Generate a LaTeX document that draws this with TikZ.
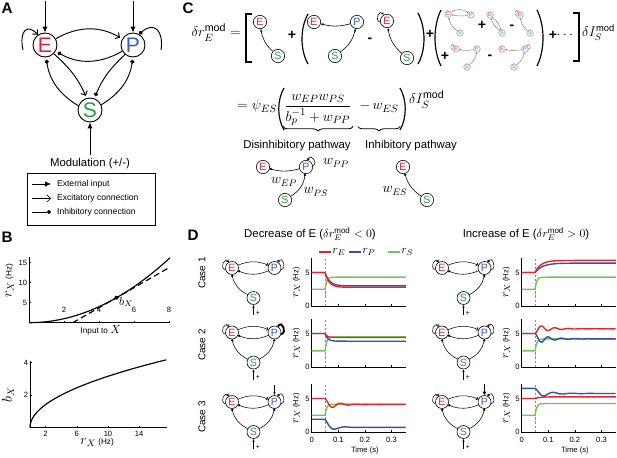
\documentclass[tikz,border=0pt]{standalone}
\usepackage{amsmath}
\usepackage{fontspec}
\setmainfont{Liberation Sans}
\usetikzlibrary{arrows.meta,decorations.pathreplacing}

\definecolor{colE}{RGB}{215,35,55}
\definecolor{colP}{RGB}{55,95,190}
\definecolor{colS}{RGB}{35,160,60}
\definecolor{trE}{RGB}{232,36,42}
\definecolor{trP}{RGB}{52,78,178}
\definecolor{trS}{RGB}{112,200,80}

\newcommand{\eqsize}{\fontsize{13}{15}\selectfont}
\newcommand{\txtsize}{\fontsize{9.7}{11}\selectfont}
\newcommand{\lgdsize}{\fontsize{7.3}{9}\selectfont}
\newcommand{\ticksize}{\fontsize{6.5}{8}\selectfont}
\newcommand{\plussize}{\fontsize{12}{12}\selectfont\bfseries}

% rates after the step at t = 0.05 s
\newcommand{\stepcurve}[4]{\draw[#1] (0,#2) -- (0.05,#2) -- plot[domain=0.05:0.355,samples=60] (\x,{#3+(#2-#3)*exp(-(\x-0.05)/#4)});}
\newcommand{\osccurve}[5]{\draw[#1] (0,#2) -- (0.05,#2) -- plot[domain=0.05:0.355,samples=120] (\x,{#3+(#2-#3)*exp(-(\x-0.05)/#4)*cos(360*#5*(\x-0.05))});}

% frame of one rate plot
\newcommand{\dframe}[1]{%
  \draw[axisline] (0,7.1) -- (0,0) -- (0.355,0);
  \foreach \t in {0.1,0.2,0.3} \draw[axisline] (\t,0) -- (\t,0.3);
  \draw[axisline] (0,5) -- (0.008,5);
  \draw[vline] (0.05,0) -- (0.05,7.1);
  \node[ytlab] (#1y0) at (0,0) {0};
  \node[ytlab] (#1y5) at (0,5) {5};
  \node[rotate=90,font=\ticksize] (#1lab) at (-0.057,3.5) {{\fontsize{10}{10}\selectfont$r_X$} (Hz)};
}
\newcommand{\dtime}[1]{%
  \foreach \t/\n in {0/a,0.1/b,0.2/c,0.3/d} \node[font=\ticksize] (#1x\n) at (\t,-1.2) {\t};
  \node[font=\ticksize] (#1time) at (0.2,-2.8) {Time (s)};
}
% E, P, S of one small network in D
\newcommand{\minicells}[4]{%
  \node[cellD,text=colE] (#1e) at (#2,#3) {E};
  \node[cellD,text=colP] (#1p) at (#2+42.5,#3) {P};
  \node[cellD,text=colS] (#1s) at (#2+21.5,#4) {S};
  \coordinate (#1m) at (#2+21.5,#4-17);
  \node[font=\fontsize{6}{6}\selectfont,inner sep=0pt] (#1plus) at (#2+26,#4-15) {+};
  \draw[sext] (#1m) -- (#1s);
  \draw[sexc] (#1e.195) .. controls +(165:7) and +(120:7) .. (#1e.120);
  \draw[sexc] (#1e.25) to[bend left=22] (#1p.155);
  \draw[sinh] (#1p.205) to[bend left=22] (#1e.-25);
}

\begin{document}
\begin{tikzpicture}[x=0.03cm,y=0.03cm,
  lbl/.style={font=\fontsize{13}{15}\selectfont\bfseries},
  cellA/.style={circle,draw,line width=0.8pt,fill=white,minimum size=7.2mm,inner sep=0pt,font=\fontsize{18}{18}\selectfont},
  cellC/.style={circle,draw,line width=0.5pt,fill=white,minimum size=4mm,inner sep=0pt,font=\fontsize{9}{9}\selectfont},
  cellT/.style={circle,draw=black!45,line width=0.3pt,minimum size=2mm,inner sep=0pt,font=\fontsize{4.5}{4.5}\selectfont},
  cellD/.style={circle,draw,line width=0.5pt,fill=white,minimum size=3.9mm,inner sep=0pt,font=\fontsize{9}{9}\selectfont},
  tE/.style={cellT,fill=colE!12,text=colE!70},
  tP/.style={cellT,fill=colP!12,text=colP!70},
  tS/.style={cellT,fill=colS!12,text=colS!70},
  ext/.style={line width=0.8pt,-{Latex[length=5pt,width=4.5pt]}},
  exc/.style={line width=0.8pt,-{Straight Barb[length=3pt,width=6pt]}},
  inh/.style={line width=0.8pt,-{Circle[length=3.5pt]}},
  sext/.style={line width=0.5pt,-{Latex[length=2.5pt,width=2.2pt]}},
  sexc/.style={line width=0.45pt,-{Straight Barb[length=1.5pt,width=3pt]}},
  sinh/.style={line width=0.45pt,-{Circle[length=2pt]}},
  carr/.style={line width=0.5pt,-{Stealth[length=2.5pt,width=2pt]}},
  cinh/.style={line width=0.5pt,-{Circle[length=2pt]}},
  tarr/.style={line width=0.3pt,black!60,-{Stealth[length=1.3pt,width=1.2pt]}},
  paren/.style={line width=1pt},
  brc/.style={decorate,decoration={brace,mirror,amplitude=4pt},line width=0.7pt},
  axisline/.style={line width=0.5pt},
  fcurve/.style={line width=1pt},
  rtrace/.style={line width=1.2pt},
  ytlab/.style={anchor=east,font=\ticksize,inner sep=1.5pt},
  vline/.style={black!45,line width=0.5pt,dash pattern=on 2pt off 1.5pt}
]
\useasboundingbox (0,0) rectangle (617,-458);

% panel labels
\node[lbl] (labA) at (7,-8) {A};
\node[lbl] (labB) at (7,-237) {B};
\node[lbl] (labC) at (188,-8) {C};
\node[lbl] (labD) at (193,-235) {D};

% A: network
\node[cellA,text=colE] (eA) at (45,-45) {E};
\node[cellA,text=colP] (pA) at (133,-45) {P};
\node[cellA,text=colS] (sA) at (90,-110) {S};
\coordinate (inE) at (45,-1);
\coordinate (inP) at (133,-1);
\coordinate (lpE) at (23,-50);
\coordinate (lpP) at (161,-50);
\draw[ext] (inE) -- (eA);
\draw[ext] (inP) -- (pA);
\draw[exc] (lpE) .. controls (19,-31) and (27,-23) .. (eA.125);
\draw[inh] (lpP) .. controls (164,-31) and (154,-21) .. (pA.60);
\draw[exc,shorten >=2pt] (eA.30) to[bend left=30] (pA.150);
\draw[inh,shorten >=2pt] (pA.210) to[bend left=30] (eA.-30);
\draw[exc,shorten >=2pt] (eA.-45) to[bend left=12] (sA.105);
\draw[inh,shorten >=2pt] (sA.160) to[bend left=25] (eA.-85);
\draw[inh,shorten >=2pt] (pA.-130) to[bend right=12] (sA.70);
\draw[inh,shorten >=2pt] (sA.25) to[bend right=25] (pA.-90);
\node[font=\txtsize] (modA) at (90,-164) {Modulation (+/-)};
\draw[ext] (modA) -- (sA);

% A: legend
\draw[line width=0.5pt] (27,-173) rectangle (155,-225);
\coordinate (lg1a) at (32,-184); \coordinate (lg1b) at (51,-184);
\coordinate (lg2a) at (32,-198.5); \coordinate (lg2b) at (51,-198.5);
\coordinate (lg3a) at (32,-212); \coordinate (lg3b) at (51,-212);
\draw[ext,line width=0.6pt] (lg1a) -- (lg1b);
\draw[exc,line width=0.6pt] (lg2a) -- (lg2b);
\draw[inh,line width=0.6pt] (lg3a) -- (lg3b);
\node[anchor=west,font=\lgdsize] (lg1t) at (53,-184) {External input};
\node[anchor=west,font=\lgdsize] (lg2t) at (53,-198.5) {Excitatory connection};
\node[anchor=west,font=\lgdsize] (lg3t) at (53,-212) {Inhibitory connection};

% B: transfer function
\begin{scope}[shift={(29,-322.7)},xscale=17.5,yscale=4]
  \draw[axisline] (0,16.3) -- (0,0) -- (8.05,0);
  \foreach \v in {2,4,6,8} {
    \draw[axisline] (\v,0) -- (\v,0.5);
    \node[font=\ticksize] (bx\v) at (\v,3.2) {\v};
  }
  \foreach \v in {5,10,15} {
    \draw[axisline] (0,\v) -- (0.12,\v);
    \node[ytlab] (by\v) at (0,\v) {\v};
  }
  \draw[fcurve] plot[domain=0:8.05,samples=60] (\x,{0.25*\x*\x});
  \draw[fcurve,dash pattern=on 5pt off 3pt] (2.5,0) -- (8,13.75);
  \node[circle,fill,inner sep=0pt,minimum size=3.5pt] (bdot) at (5,6.25) {};
  \node[font=\fontsize{10}{12}\selectfont] (bxlab) at (5.55,5.2) {$b_X$};
  \node[rotate=90,font=\fontsize{7}{8}\selectfont] (brlab) at (-1.1,10.5) {{\fontsize{12}{12}\selectfont$r_X$} (Hz)};
  \node[font=\fontsize{7}{8}\selectfont] (binlab) at (4.1,-2.0) {Input to {\fontsize{10}{10}\selectfont$X$}};
\end{scope}

% B: gain
\begin{scope}[shift={(30,-427.5)},xscale=7.8,yscale=16.2]
  \draw[axisline] (0,4.1) -- (0,0) -- (17.5,0);
  \foreach \v in {2,6,10,14} {
    \draw[axisline] (\v,0) -- (\v,0.12);
    \node[font=\ticksize] (bbx\v) at (\v,-0.42) {\v};
  }
  \foreach \v in {2,4} {
    \draw[axisline] (0,\v) -- (0.25,\v);
    \node[ytlab] (bby\v) at (0,\v) {\v};
  }
  \draw[fcurve] plot[domain=0:4.18,samples=60] ({\x*\x},\x);
  \node[rotate=90,font=\fontsize{12}{12}\selectfont] (bblab) at (-2.8,2.0) {$b_X$};
  \node[font=\fontsize{7}{8}\selectfont] (bbrlab) at (8.6,-0.9) {{\fontsize{12}{12}\selectfont$r_X$} (Hz)};
\end{scope}

% C: expansion
\node[anchor=base east,font=\eqsize,inner sep=0pt] (lhs) at (241,-37) {$\delta r_E^{\mathrm{mod}}=$};
\draw[paren,line width=1.3pt] (252,-14) -- (246,-14) -- (246,-62) -- (252,-62);
\node[cellC,text=colE] (e1) at (260,-22) {E};
\node[cellC,text=colS] (s1) at (278,-56) {S};
\draw[carr] (s1) to[bend left=20] (e1);
\node[font=\plussize] (pl1) at (292,-35) {+};
\draw[paren] (308,-14) .. controls (300,-28) and (300,-50) .. (308,-64);
\node[cellC,text=colE] (e2) at (314,-22) {E};
\node[cellC,text=colP] (p2) at (357,-22) {P};
\node[cellC,text=colS] (s2) at (335,-56) {S};
\draw[carr] (p2) to[bend left=15] (e2);
\draw[carr] (s2) to[bend right=20] (p2);
\node[font=\plussize] (mi1) at (370,-40) {-};
\node[cellC,text=colE] (e3) at (387,-21) {E};
\node[cellC,text=colS] (s3) at (407,-58) {S};
\draw[carr] (e3.190) .. controls +(160:7) and +(120:7) .. (e3.120);
\draw[carr] (s3) to[bend left=20] (e3);
\draw[paren] (418,-13) .. controls (426,-28) and (426,-50) .. (418,-64);
\node[font=\plussize] (pl2) at (430,-34) {+};
\draw[paren] (441,-10) .. controls (433,-26) and (433,-50) .. (441,-66);
% higher order terms
\node[tE] (ea) at (448,-14) {E};
\node[tP] (pa) at (471,-15) {P};
\node[tS] (sa) at (460,-33) {S};
\draw[tarr] (ea) to[bend left=35] (pa);
\draw[tarr] (pa) to[bend left=10] (ea);
\draw[tarr] (sa) to[bend left=20] (ea);
\node[font=\plussize] (pl3) at (482,-25) {+};
\node[tE] (eb) at (490,-15) {E};
\node[tS] (sb) at (502,-33) {S};
\draw[tarr] (eb) to[bend left=15] (sb);
\draw[tarr] (sb) to[bend left=15] (eb);
\node[font=\plussize] (mi2) at (512,-27) {-};
\node[tE] (ec) at (520,-15) {E};
\node[tS] (sc) at (530,-33) {S};
\draw[tarr] (ec.190) .. controls +(160:4) and +(120:4) .. (ec.120);
\draw[tarr] (sc) to[bend left=20] (ec);
\node[font=\plussize] (pl4) at (445,-56) {+};
\node[tE] (ed) at (456,-49) {E};
\node[tP] (pd) at (477,-49) {P};
\node[tS] (sd) at (467,-67) {S};
\draw[tarr] (ed.190) .. controls +(160:4) and +(120:4) .. (ed.120);
\draw[tarr] (pd) to[bend left=10] (ed);
\draw[tarr] (sd) to[bend right=20] (pd);
\node[font=\plussize] (mi3) at (490,-57) {-};
\node[tE] (ee) at (502,-49) {E};
\node[tP] (pe) at (525,-49) {P};
\node[tS] (se) at (514,-67) {S};
\draw[tarr] (pe.-10) .. controls +(20:4) and +(60:4) .. (pe.60);
\draw[tarr] (pe) to[bend left=10] (ee);
\draw[tarr] (se) to[bend right=20] (pe);
\draw[paren] (537,-10) .. controls (545,-26) and (545,-50) .. (537,-66);
\node[font=\plussize] (pl5) at (553,-35) {+};
\node[font=\eqsize] (dots) at (566,-35) {$\cdots$};
\draw[paren,line width=1.3pt] (573,-13) -- (579,-13) -- (579,-61) -- (573,-61);
\node[anchor=base west,font=\fontsize{12}{14}\selectfont,inner sep=0pt] (dIs) at (582,-37) {$\delta I_S^{\mathrm{mod}}$};

% C: linear response
\node[anchor=base west,font=\eqsize,inner sep=0pt] (eqpsi) at (237,-110) {$=\psi_{ES}$};
\draw[paren] (284,-88) .. controls (277,-100) and (277,-118) .. (284,-130);
\node[anchor=base,font=\eqsize,inner sep=1pt] (eqfrac) at (318,-110) {$\dfrac{w_{EP}w_{PS}}{b_p^{-1}+w_{PP}}$};
\node[anchor=base,font=\eqsize,inner sep=1pt] (eqmin) at (379,-110) {$-\,w_{ES}$};
\draw[paren] (400,-88) .. controls (407,-100) and (407,-118) .. (400,-130);
\node[anchor=base west,font=\eqsize,inner sep=0pt] (eqdI) at (409,-104) {$\delta I_S^{\mathrm{mod}}$};
\draw[brc] (eqfrac.south west) -- (eqfrac.south east);
\draw[brc] (eqmin.west |- eqfrac.south) -- (eqmin.east |- eqfrac.south);
\node[font=\txtsize] (disLbl) at (297,-146) {Disinhibitory pathway};
\node[font=\txtsize] (inhLbl) at (411,-146) {Inhibitory pathway};

% C: pathways
\node[cellC,text=colE] (edis) at (263,-167) {E};
\node[cellC,text=colP] (pdis) at (306,-167) {P};
\node[cellC,text=colS] (sdis) at (285,-200) {S};
\draw[cinh] (pdis) to[bend left=15] (edis);
\draw[cinh] (sdis) to[bend right=25] (pdis);
\draw[cinh] (pdis.10) .. controls +(30:7) and +(70:7) .. (pdis.75);
\node[font=\fontsize{12}{12}\selectfont] (wpp) at (336,-163) {$w_{PP}$};
\node[font=\fontsize{12}{12}\selectfont] (wep) at (284,-182) {$w_{EP}$};
\node[font=\fontsize{12}{12}\selectfont] (wps) at (316,-192) {$w_{PS}$};
\node[cellC,text=colE] (eI) at (403,-167) {E};
\node[cellC,text=colS] (sI) at (427,-200) {S};
\draw[cinh] (sI) to[bend left=20] (eI);
\node[font=\fontsize{12}{12}\selectfont] (wes) at (395,-191) {$w_{ES}$};

% D: titles and legend
\node[font=\txtsize] (titDec) at (310,-234) {Decrease of E ($\delta r_E^{\mathrm{mod}}<0$)};
\node[font=\txtsize] (titInc) at (526,-234) {Increase of E ($\delta r_E^{\mathrm{mod}}>0$)};
\coordinate (lgEa) at (319,-252); \coordinate (lgEb) at (331,-252);
\coordinate (lgPa) at (349,-252); \coordinate (lgPb) at (361,-252);
\coordinate (lgSa) at (388,-252); \coordinate (lgSb) at (400,-252);
\draw[trE,line width=0.9pt] (lgEa) -- (lgEb);
\draw[trP,line width=0.9pt] (lgPa) -- (lgPb);
\draw[trS,line width=0.9pt] (lgSa) -- (lgSb);
\node[anchor=west,inner sep=1pt,font=\fontsize{10}{10}\selectfont] (lgEt) at (331,-252) {$r_E$};
\node[anchor=west,inner sep=1pt,font=\fontsize{10}{10}\selectfont] (lgPt) at (361,-252) {$r_P$};
\node[anchor=west,inner sep=1pt,font=\fontsize{10}{10}\selectfont] (lgSt) at (400,-252) {$r_S$};
\node[rotate=90,font=\fontsize{8.5}{10}\selectfont] (case1) at (202,-273) {Case 1};
\node[rotate=90,font=\fontsize{8.5}{10}\selectfont] (case2) at (202,-345) {Case 2};
\node[rotate=90,font=\fontsize{8.5}{10}\selectfont] (case3) at (202,-417) {Case 3};

% D: networks, decrease
\minicells{dA}{232}{-268}{-298}
\draw[sinh] (dAp.-15) .. controls +(15:7) and +(60:7) .. (dAp.60);
\draw[sinh] (dAs.150) to[bend left=25] (dAe.-90);
\minicells{dB}{232}{-332.5}{-362.5}
\draw[sinh,line width=1.6pt] (dBp.-15) .. controls +(15:7) and +(60:7) .. (dBp.60);
\draw[sinh] (dBs.150) to[bend left=25] (dBe.-90);
\draw[sinh] (dBs.30) to[bend right=25] (dBp.-90);
\minicells{dC}{232}{-402}{-432}
\draw[sinh] (dCp.-15) .. controls +(15:7) and +(60:7) .. (dCp.60);
\draw[sinh] (dCs.150) to[bend left=25] (dCe.-90);
\draw[sinh] (dCs.30) to[bend right=25] (dCp.-90);
\coordinate (dCin) at (274.5,-385);
\draw[sext] (dCin) -- (dCp);

% D: networks, increase
\minicells{iA}{442}{-268}{-298}
\draw[sinh] (iAp.-15) .. controls +(15:7) and +(60:7) .. (iAp.60);
\draw[sinh] (iAs.30) to[bend right=25] (iAp.-90);
\minicells{iB}{442}{-332.5}{-362.5}
\draw[sinh] (iBp.-15) .. controls +(15:7) and +(60:7) .. (iBp.60);
\draw[sinh] (iBs.150) to[bend left=25] (iBe.-90);
\draw[sinh] (iBs.30) to[bend right=25] (iBp.-90);
\minicells{iC}{442}{-402}{-432}
\draw[sinh] (iCp.-15) .. controls +(15:7) and +(60:7) .. (iCp.60);
\draw[sinh] (iCs.150) to[bend left=25] (iCe.-90);
\draw[sinh] (iCs.30) to[bend right=25] (iCp.-90);
\coordinate (iCin) at (484.5,-384);
\draw[line width=1.5pt,-{Latex[length=3pt,width=3.5pt]}] (iCin) -- (iCp);

% D: rates, decrease
\begin{scope}[shift={(311.7,-306)},xscale=266,yscale=6.7]
  \dframe{dla}
  \stepcurve{rtrace,trS}{2.5}{4.3}{0.006}
  \stepcurve{rtrace,trP}{5}{3.0}{0.017}
  \stepcurve{rtrace,trE}{5}{2.8}{0.015}
\end{scope}
\begin{scope}[shift={(311.7,-367)},xscale=266,yscale=6.7]
  \dframe{dlb}
  \stepcurve{rtrace,trS}{2.4}{4.5}{0.006}
  \stepcurve{rtrace,trP}{5}{3.85}{0.01}
  \stepcurve{rtrace,trE}{5}{4.4}{0.008}
\end{scope}
\begin{scope}[shift={(311.7,-432)},xscale=266,yscale=6.7]
  \dframe{dlc}
  \dtime{dlc}
  \stepcurve{rtrace,trS}{2.5}{4.15}{0.006}
  \osccurve{rtrace,trP}{1.9}{0.7}{0.0255}{12.5}
  \osccurve{rtrace,trE}{5}{4.1}{0.037}{16.7}
\end{scope}

% D: rates, increase
\begin{scope}[shift={(521.7,-306)},xscale=266,yscale=6.7]
  \dframe{dra}
  \stepcurve{rtrace,trS}{2.5}{4.3}{0.006}
  \stepcurve{rtrace,trP}{5}{6.4}{0.028}
  \stepcurve{rtrace,trE}{5}{6.8}{0.022}
\end{scope}
\begin{scope}[shift={(521.7,-367)},xscale=266,yscale=6.7]
  \dframe{drb}
  \stepcurve{rtrace,trS}{2.4}{4.2}{0.006}
  \osccurve{rtrace,trP}{5}{4.2}{0.05}{20}
  \osccurve{rtrace,trE}{5}{5.7}{0.05}{20}
\end{scope}
\begin{scope}[shift={(521.7,-432)},xscale=266,yscale=6.7]
  \dframe{drc}
  \dtime{drc}
  \stepcurve{rtrace,trS}{2.5}{4.25}{0.006}
  \osccurve{rtrace,trP}{6.5}{5.75}{0.046}{14.3}
  \stepcurve{rtrace,trE}{5}{5.25}{0.02}
\end{scope}
\end{tikzpicture}
\end{document}
